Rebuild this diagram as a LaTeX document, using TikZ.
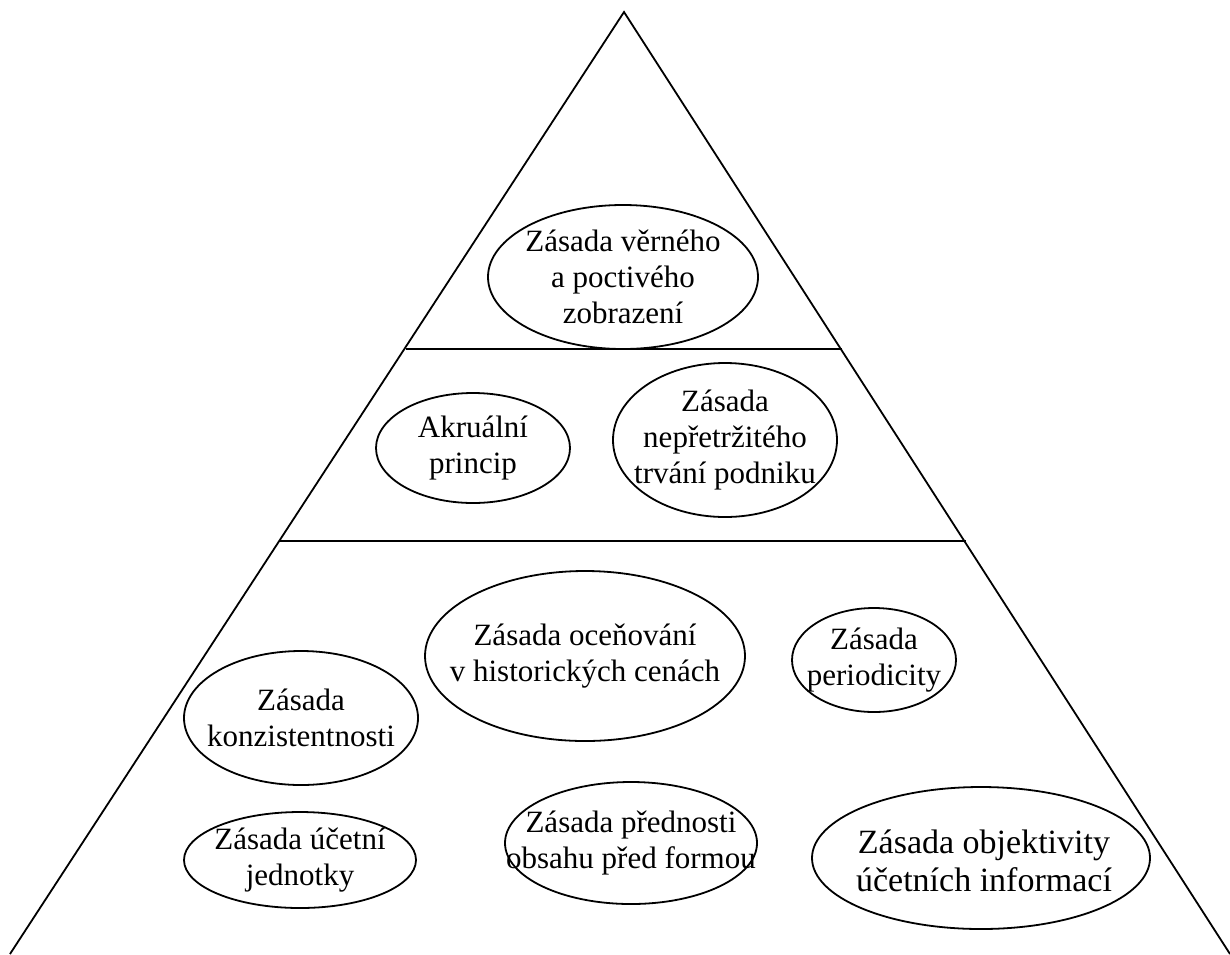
\documentclass[tikz,border=0pt]{standalone}
\usepackage{fontspec}
\setmainfont{Liberation Serif}
\usetikzlibrary{shapes.geometric}
\begin{document}
\begin{tikzpicture}[x=1pt,y=-1pt,
  ln/.style={line width=1.8pt,black},
  ell/.style={ellipse,draw,line width=1.8pt,inner sep=0pt},
  txt/.style={inner sep=0pt,align=center,font=\fontsize{31}{36}\selectfont},
  bigtxt/.style={txt,font=\fontsize{34}{38}\selectfont},
]
\useasboundingbox (0,0) rectangle (1230,954);
\coordinate (apex) at (624,12);
\coordinate (bl) at (10,954);
\coordinate (br) at (1230,954);
\coordinate (l1a) at (406,349);
\coordinate (l1b) at (842,349);
\coordinate (l2a) at (279,541);
\coordinate (l2b) at (966,541);
\draw[ln] (bl) -- (apex) -- (br);
\draw[ln] (l1a) -- (l1b);
\draw[ln] (l2a) -- (l2b);

\node[ell,minimum width=270pt,minimum height=144pt] (verne) at (623,277) {};
\node[txt] (verneT) at (verne) {Zásada věrného\\a poctivého\\zobrazení};
\node[ell,minimum width=194pt,minimum height=110pt] (akrual) at (473,448) {};
\node[txt] (akrualT) at (akrual) {Akruální\\princip};
\node[ell,minimum width=224pt,minimum height=154pt] (neprer) at (725,440) {};
\node[txt] (nepreT) at (neprer) {Zásada\\nepřetržitého\\trvání podniku};
\node[ell,minimum width=320pt,minimum height=170pt] (ocen) at (585,656) {};
\node[txt] (ocenT) at (ocen) {Zásada oceňování\\v historických cenách};
\node[ell,minimum width=164pt,minimum height=104pt] (period) at (874,660) {};
\node[txt] (periodT) at (period) {Zásada\\periodicity};
\node[ell,minimum width=234pt,minimum height=134pt] (konz) at (301,718) {};
\node[txt] (konzT) at (konz) {Zásada\\konzistentnosti};
\node[ell,minimum width=252pt,minimum height=122pt] (predn) at (631,843) {};
\node[txt] (prednT) at (predn) {Zásada přednosti\\obsahu před formou};
\node[ell,minimum width=232pt,minimum height=96pt] (jedn) at (300,860) {};
\node[txt] (jednT) at (jedn) {Zásada účetní\\jednotky};
\node[ell,minimum width=338pt,minimum height=142pt] (objekt) at (981,858) {};
\node[bigtxt] (objektT) at ([xshift=3pt,yshift=-3pt]objekt.center) {Zásada objektivity\\účetních informací};
\end{tikzpicture}
\end{document}
